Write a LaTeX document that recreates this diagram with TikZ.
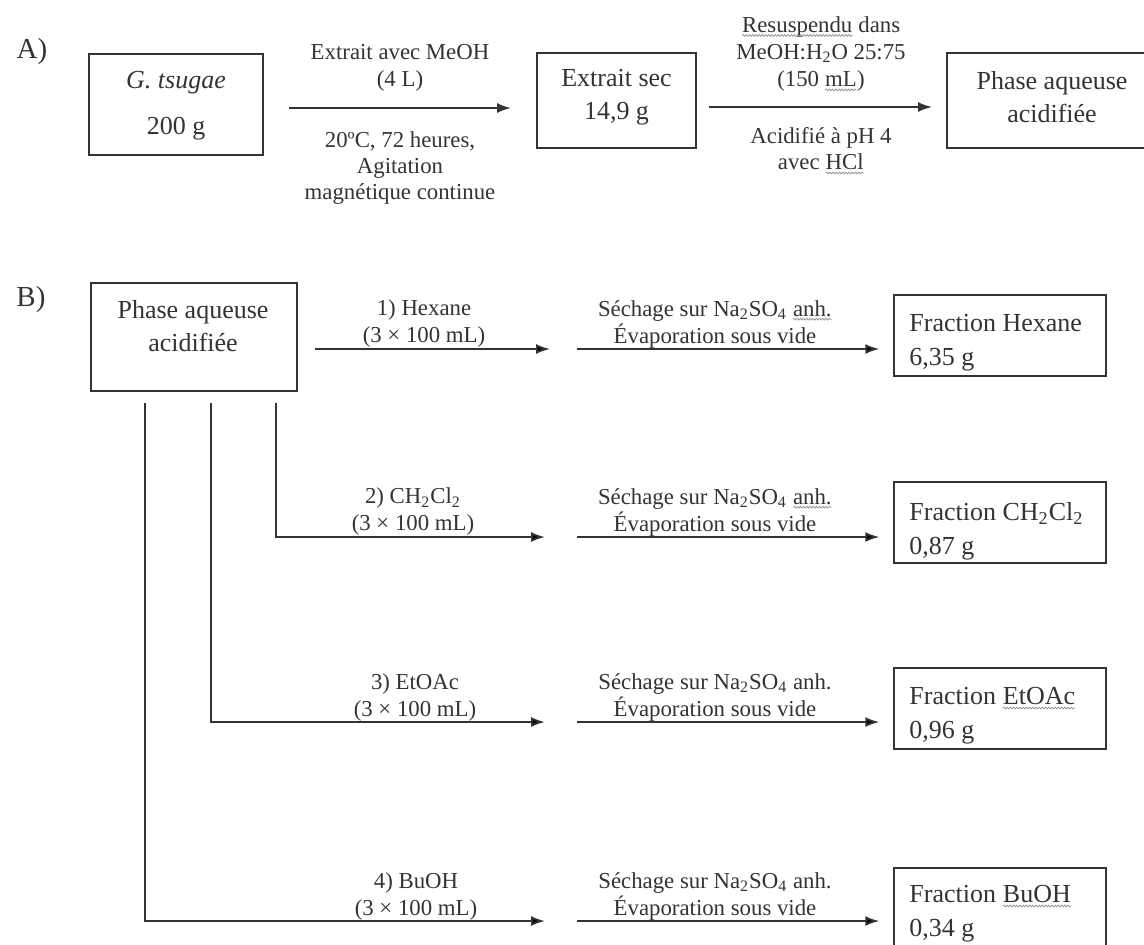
\documentclass[tikz,border=0pt]{standalone}
\usepackage{fontspec}
\setmainfont{Liberation Serif}
\usetikzlibrary{arrows.meta,decorations.pathmorphing}
\definecolor{ink}{gray}{0.2}
\tikzset{
  frame/.style={draw=ink, line width=0.7pt, inner sep=0pt},
  boxtext/.style={text=ink, font=\fontsize{13}{16.5}\selectfont, align=center, inner sep=0pt},
  fractext/.style={text=ink, font=\fontsize{13}{17}\selectfont, align=left, anchor=west, inner sep=0pt},
  lab/.style={text=ink, font=\fontsize{11.4}{13.5}\selectfont, align=center, inner sep=0pt},
  arr/.style={draw=ink, line width=0.9pt, -{Latex[length=7pt,width=5pt]}},
  squig/.style={draw=black!45, line width=0.35pt, decorate, decoration={snake, amplitude=0.45pt, segment length=1.6pt}},
  sec/.style={text=ink, font=\fontsize{14.5}{16}\selectfont, inner sep=0pt},
}
\newcommand\sqw[1]{\tikz[baseline=(sqw.base)]{\node[inner sep=0pt, outer sep=0pt, anchor=base, draw=none, fill=none] (sqw) {#1}; \draw[squig] ([yshift=-1.6pt]sqw.base west) -- ([yshift=-1.6pt]sqw.base east);}}
\begin{document}
\begin{tikzpicture}[x=0.5pt,y=-0.5pt]
\useasboundingbox (0,0) rectangle (1144,944);

% ---------- A ----------
\node[sec] (labA) at (32,52) {A)};
\node[frame, minimum width=87pt, minimum height=50.5pt] (b1) at (176,104.5) {};
\node[boxtext, font=\fontsize{13}{23}\selectfont] (t1) at (176,106) {\textit{G. tsugae}\\200 g};
\node[frame, minimum width=79.5pt, minimum height=47.5pt] (b2) at (616.5,100.5) {};
\node[boxtext] (t2) at (616.5,97.5) {Extrait sec\\14,9 g};
\node[frame, minimum width=106.5pt, minimum height=47.5pt] (b3) at (1053.5,100.5) {};
\node[boxtext] (t3) at (1052,97.5) {Phase aqueuse\\acidifiée};

\coordinate (a1s) at (289,108);
\coordinate (a1e) at (511,108);
\draw[arr] (a1s) -- (a1e);
\node[lab] (l1t) at (400,67.5) {Extrait avec MeOH\\(4 L)};
\node[lab, font=\fontsize{11.4}{12.8}\selectfont] (l1b) at (400,168) {20ºC, 72 heures,\\Agitation\\magnétique continue};

\coordinate (a2s) at (709,107);
\coordinate (a2e) at (932,107);
\draw[arr] (a2s) -- (a2e);
\node[lab, font=\fontsize{11.4}{13.6}\selectfont] (l2t) at (821,54) {\sqw{Resuspendu} dans\\MeOH:H\textsubscript{2}O 25:75\\(150 \sqw{mL})};
\node[lab, font=\fontsize{11.4}{13}\selectfont] (l2b) at (821,151) {Acidifié à pH 4\\avec \sqw{HCl}};

% ---------- B ----------
\node[sec] (labB) at (31,300) {B)};
\node[frame, minimum width=103pt, minimum height=54pt] (bB) at (194,337) {};
\node[boxtext] (tB) at (193,326.5) {Phase aqueuse\\acidifiée};

\node[frame, minimum width=106pt, minimum height=40.5pt] (f1) at (1000,335.5) {};
\node[frame, minimum width=106pt, minimum height=40.5pt] (f2) at (1000,522.5) {};
\node[frame, minimum width=106pt, minimum height=40.5pt] (f3) at (1000,708.5) {};
\node[frame, minimum width=106pt, minimum height=40.5pt] (f4) at (1000,908.5) {};
\node[fractext] (ft1) at (909,343) {Fraction Hexane\\6,35 g};
\node[fractext] (ft2) at (909,531) {Fraction CH\textsubscript{2}Cl\textsubscript{2}\\0,87 g};
\node[fractext] (ft3) at (909,716) {Fraction \sqw{EtOAc}\\0,96 g};
\node[fractext] (ft4) at (909,914) {Fraction \sqw{BuOH}\\0,34 g};

% vertical branch starts
\coordinate (v4) at (145,403);
\coordinate (v3) at (211,403);
\coordinate (v2) at (276,403);

% row 1
\coordinate (r1s) at (315,349);
\coordinate (r1e) at (550,349);
\coordinate (r1b) at (577,349);
\draw[arr] (r1s) -- (r1e);
\draw[arr, shorten >=7pt] (r1b) -- (r1b -| f1.west);
\node[lab] (s1) at (424,324) {1) Hexane\\(3 × 100 mL)};
\node[lab] (d1) at (715,324) {Séchage sur Na\textsubscript{2}SO\textsubscript{4} \sqw{anh.}\\Évaporation sous vide};

% row 2
\coordinate (r2e) at (545,537);
\coordinate (r2b) at (577,537);
\draw[arr] (v2) |- (r2e);
\draw[arr, shorten >=7pt] (r2b) -- (r2b -| f2.west);
\node[lab] (s2) at (413,512) {2) CH\textsubscript{2}Cl\textsubscript{2}\\(3 × 100 mL)};
\node[lab] (d2) at (715,512) {Séchage sur Na\textsubscript{2}SO\textsubscript{4} \sqw{anh.}\\Évaporation sous vide};

% row 3
\coordinate (r3e) at (545,722);
\coordinate (r3b) at (577,722);
\draw[arr] (v3) |- (r3e);
\draw[arr, shorten >=7pt] (r3b) -- (r3b -| f3.west);
\node[lab] (s3) at (415,697) {3) EtOAc\\(3 × 100 mL)};
\node[lab] (d3) at (715,697) {Séchage sur Na\textsubscript{2}SO\textsubscript{4} anh.\\Évaporation sous vide};

% row 4
\coordinate (r4e) at (545,921);
\coordinate (r4b) at (577,921);
\draw[arr] (v4) |- (r4e);
\draw[arr, shorten >=7pt] (r4b) -- (r4b -| f4.west);
\node[lab] (s4) at (416,896) {4) BuOH\\(3 × 100 mL)};
\node[lab] (d4) at (715,896) {Séchage sur Na\textsubscript{2}SO\textsubscript{4} anh.\\Évaporation sous vide};
\end{tikzpicture}
\end{document}
